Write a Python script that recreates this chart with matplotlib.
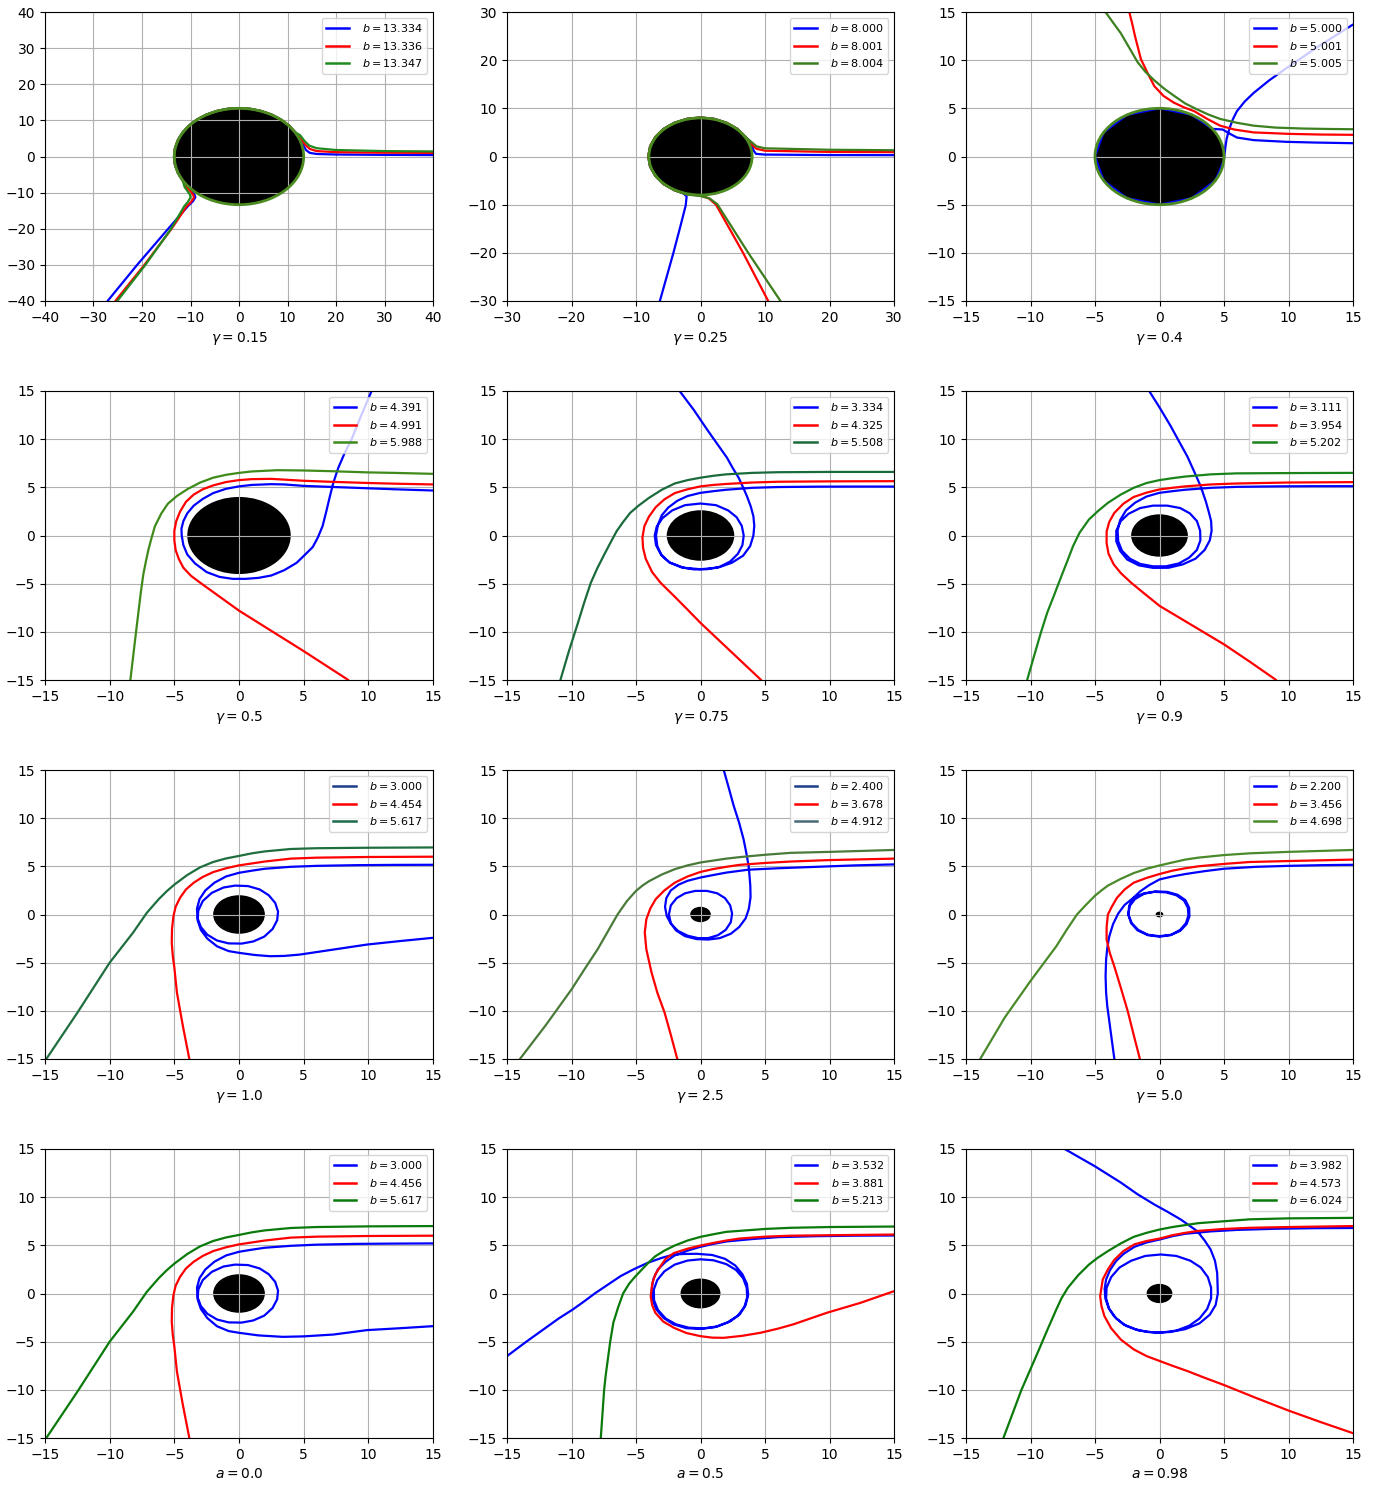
import matplotlib
matplotlib.use('Agg')
import matplotlib.pyplot as plt
from matplotlib.patches import Ellipse
from matplotlib.lines import Line2D

# ---------------- data ----------------
titles = [r'$\gamma = 0.15$', r'$\gamma = 0.25$', r'$\gamma = 0.4$',
          r'$\gamma = 0.5$', r'$\gamma = 0.75$', r'$\gamma = 0.9$',
          r'$\gamma = 1.0$', r'$\gamma = 2.5$', r'$\gamma = 5.0$',
          r'$a = 0.0$', r'$a = 0.5$', r'$a = 0.98$']
b_values = [["13.334", "13.336", "13.347"], ["8.000", "8.001", "8.004"], ["5.000", "5.001", "5.005"],
            ["4.391", "4.991", "5.988"], ["3.334", "4.325", "5.508"], ["3.111", "3.954", "5.202"],
            ["3.000", "4.454", "5.617"], ["2.400", "3.678", "4.912"], ["2.200", "3.456", "4.698"],
            ["3.000", "4.456", "5.617"], ["3.532", "3.881", "5.213"], ["3.982", "4.573", "6.024"]]
limits = [40, 30, 15, 15, 15, 15, 15, 15, 15, 15, 15, 15]
tick_steps = [10, 10, 5, 5, 5, 5, 5, 5, 5, 5, 5, 5]
disc_radius = [13.34, 8.0, 5.0, 4.0, 2.62, 2.2, 2.0, 0.8, 0.3, 2.0, 1.55, 1.0]
disc_edge = [True, True, True, False, False, False, False, False, False, False, False, False]

# panel 1 (gamma = 0.15)
P1_ARC = [(11.6, 6.7), (10.27, 8.61), (8.61, 10.27), (6.7, 11.6), (4.58, 12.59), (2.33, 13.2), (0, 13.4),
          (-2.33, 13.2), (-4.58, 12.59), (-6.7, 11.6), (-8.61, 10.27), (-10.27, 8.61), (-11.6, 6.7),
          (-12.59, 4.58), (-13.2, 2.33), (-13.4, 0), (-13.2, -2.33), (-12.59, -4.58), (-11.6, -6.7)]
P1_BLUE = ([(40, 0.4), (30, 0.45), (20, 0.55), (16, 0.7), (14.6, 1.0), (13.8, 1.8), (13.2, 3.3), (12.4, 5.2)]
           + P1_ARC +
           [(-10.6, -8.5), (-9.7, -9.7), (-9.15, -10.6), (-9.0, -11.3), (-9.5, -12.4), (-10.5, -13.7),
            (-14.6, -20), (-21.0, -30), (-27.1, -40)])
P1_RED = ([(40, 1.0), (30, 1.05), (20, 1.2), (16, 1.5), (14.6, 2.1), (13.7, 3.2), (12.8, 4.8)]
          + P1_ARC +
          [(-10.8, -8.5), (-9.9, -9.8), (-9.4, -10.7), (-9.3, -11.4), (-9.9, -12.6), (-10.9, -14.0),
           (-13.9, -20), (-19.5, -30), (-25.5, -40)])
P1_GREEN = ([(40, 1.4), (30, 1.5), (20, 1.8), (16, 2.3), (14.5, 3.0), (13.5, 4.3), (12.6, 5.9)]
            + P1_ARC +
            [(-11.2, -8.5), (-10.5, -9.8), (-10.1, -10.6), (-10.0, -11.3), (-10.5, -12.5), (-11.3, -13.8),
             (-14.0, -20), (-19.3, -30), (-25.1, -40)])

# panel 2 (gamma = 0.25)
P2_ARC = [(7.0, 4.05), (5.73, 5.73), (4.05, 7.0), (2.1, 7.82), (0, 8.1), (-2.1, 7.82), (-4.05, 7.0),
          (-5.73, 5.73), (-7.0, 4.05), (-7.82, 2.1), (-8.1, 0), (-7.82, -2.1), (-7.0, -4.05),
          (-5.73, -5.73), (-4.05, -7.0)]
P2_BLUE = ([(30, 0.28), (20, 0.3), (10, 0.4), (8.6, 0.55), (8.25, 1.2), (7.9, 2.4)] + P2_ARC +
           [(-2.6, -7.7), (-2.15, -8.3), (-2.3, -10.2), (-3.1, -14.4), (-4.2, -20), (-6.3, -30)])
P2_RED = ([(30, 0.9), (20, 0.95), (10, 1.2), (8.7, 1.6), (7.8, 2.6)] + P2_ARC +
          [(-2.1, -7.82), (0, -8.1), (1.3, -8.7), (2.4, -10), (6.6, -20), (10.5, -30)])
P2_GREEN = ([(30, 1.3), (20, 1.4), (10, 1.7), (8.7, 2.1), (7.9, 3.0)] + P2_ARC +
            [(-2.1, -7.9), (0, -8.2), (1.4, -8.7), (2.6, -9.9), (7.4, -20), (12.4, -30)])

# panel 3 (gamma = 0.4)
P3_BLUE = [(15, 1.38), (12, 1.45), (9.87, 1.52), (7.3, 1.7), (6.0, 1.97), (5.4, 2.4), (4.9, 2.8), (4.1, 2.87),
           (2.5, 4.33), (0, 5), (-2.5, 4.33), (-4.33, 2.5), (-5, 0), (-4.33, -2.5), (-2.5, -4.33), (0, -5),
           (2.5, -4.33), (4.33, -2.5), (4.98, -0.44), (5.06, 0.4), (5.12, 1.1), (5.2, 1.8), (5.33, 2.5),
           (5.5, 3.2), (5.7, 3.9), (6.0, 4.7), (6.6, 5.7), (7.3, 6.6), (8.5, 7.9), (9.87, 9.2),
           (12.4, 11.5), (15, 13.7)]
P3_RED = [(-2.34, 15), (-2.1, 13.7), (-1.9, 12.5), (-1.65, 11.2), (-1.44, 10.1), (-0.9, 8.6), (-0.4, 7.3),
          (0.3, 6.3), (1.1, 5.6), (1.9, 5.1), (2.7, 4.7), (3.7, 3.9), (4.7, 3.2), (5.8, 2.8), (7.3, 2.5),
          (10, 2.35), (12.5, 2.28), (15, 2.25)]
P3_GREEN = [(-4.19, 15), (-3.6, 13.9), (-3.0, 12.8), (-2.35, 11.3), (-1.7, 9.8), (-1.1, 8.8), (-0.4, 7.9),
            (0.4, 7.0), (1.13, 6.3), (2.0, 5.5), (2.9, 4.9), (3.8, 4.35), (4.7, 3.9), (6, 3.5), (7.3, 3.2),
            (9, 3.0), (11.2, 2.9), (13, 2.86), (15, 2.83)]

# panel 4 (gamma = 0.5)
P4_BLUE = [(15, 4.67), (12, 4.8), (10, 4.9), (7, 5.05), (5, 5.15), (3.5, 5.3), (2.5, 5.33), (1, 5.25),
           (0, 5.1), (-1, 4.85), (-2, 4.4), (-2.8, 3.8), (-3.5, 3.1), (-4.0, 2.3), (-4.3, 1.5), (-4.45, 0.7),
           (-4.43, 0), (-4.3, -1.0), (-4, -1.97), (-3.4, -2.9), (-2.5, -3.8), (-1.5, -4.3), (-0.5, -4.5),
           (0.5, -4.5), (1.5, -4.4), (2.5, -4.15), (3.5, -3.6), (4.45, -2.84), (5.1, -2.0), (5.7, -1.2),
           (6.1, -0.2), (6.46, 0.97), (6.75, 2.5), (7.03, 4.08), (7.3, 5.5), (7.67, 7.0), (8.15, 8.5),
           (8.7, 9.97), (9.4, 12.3), (10.25, 15)]
P4_RED = [(15, 5.3), (12, 5.38), (10, 5.45), (7, 5.58), (5, 5.68), (2.5, 5.88), (1, 5.85), (0, 5.75),
          (-1, 5.55), (-2, 5.2), (-2.8, 4.8), (-3.5, 4.25), (-4.1, 3.5), (-4.55, 2.5), (-4.85, 1.5),
          (-5, 0.5), (-5.0, -0.5), (-4.9, -1.5), (-4.65, -2.45), (-4.3, -3.35), (-3.7, -4.2), (-3, -4.9),
          (-1.5, -6.35), (0, -7.8), (2.5, -9.9), (5, -12.0), (8.45, -15)]
P4_GREEN = [(15, 6.4), (12, 6.5), (10, 6.55), (7, 6.68), (5, 6.75), (3, 6.78), (1, 6.65), (0, 6.5),
            (-1, 6.3), (-2, 6.0), (-3, 5.5), (-4, 4.8), (-4.8, 4.1), (-5.5, 3.3), (-6.0, 2.3), (-6.5, 0.97),
            (-6.75, -0.2), (-7.0, -1.45), (-7.2, -2.7), (-7.4, -4.05), (-7.6, -6), (-7.96, -10), (-8.4, -15)]

# panel 5 (gamma = 0.75)
P5_BLUE = [(15, 5.08), (12, 5.08), (9, 5.07), (6, 5.03), (4, 4.95), (2, 4.75), (1, 4.6), (0, 4.43),
           (-1, 4.1), (-1.8, 3.6), (-2.5, 2.9), (-3.0, 2.1), (-3.3, 1.1), (-3.45, 0), (-3.35, -1.1),
           (-3.0, -2.1), (-2.4, -2.8), (-1.5, -3.3), (-0.5, -3.52), (0.5, -3.5), (1.5, -3.25), (2.3, -2.7),
           (2.9, -1.9), (3.25, -1.0), (3.35, 0), (3.2, 1.0), (2.8, 1.9), (2.15, 2.6), (1.2, 3.15), (0, 3.32),
           (-1.2, 3.15), (-2.2, 2.6), (-2.95, 1.8), (-3.4, 0.9), (-3.55, 0), (-3.45, -1.0), (-3.05, -2.0),
           (-2.4, -2.8), (-1.3, -3.35), (0, -3.5), (1.3, -3.35), (2.4, -2.85), (3.3, -2.1), (3.85, -1.1),
           (4.1, 0), (4.17, 1.0), (4.1, 2.0), (3.9, 3.0), (3.6, 4.08), (3.3, 5.0), (2.96, 5.99), (2.5, 7.0),
           (2.06, 8.06), (1.3, 9.5), (0.51, 11.0), (-0.5, 13.0), (-1.62, 15)]
P5_RED = [(15, 5.64), (10, 5.62), (6, 5.58), (4, 5.5), (2, 5.35), (1, 5.25), (0, 5.1), (-1, 4.8), (-2, 4.4),
          (-2.8, 3.75), (-3.47, 2.94), (-4.0, 1.95), (-4.35, 0.97), (-4.5, -0.2), (-4.45, -1.3),
          (-4.25, -2.4), (-3.75, -3.8), (-3.1, -4.9), (-2, -6.35), (-1, -7.7), (0, -9.07), (2.4, -12.1),
          (4.7, -15)]
P5_GREEN = [(15, 6.6), (10, 6.6), (6, 6.57), (4, 6.5), (2, 6.35), (1, 6.2), (0, 6.0), (-1, 5.75),
            (-2, 5.4), (-3, 4.75), (-4, 3.9), (-4.8, 3.1), (-5.45, 2.35), (-6.0, 1.4), (-6.5, 0.45),
            (-7.0, -0.8), (-7.46, -1.97), (-8.0, -3.4), (-8.5, -4.9), (-9.0, -6.9), (-9.5, -9.07),
            (-10.2, -12), (-10.86, -15)]

# panel 6 (gamma = 0.9)
P6_BLUE = [(15, 5.12), (12, 5.12), (9, 5.1), (6, 5.05), (4, 4.95), (2, 4.75), (1, 4.6), (0, 4.43),
           (-1, 4.05), (-1.9, 3.4), (-2.6, 2.6), (-3.05, 1.6), (-3.25, 0.5), (-3.2, -0.6), (-2.9, -1.6),
           (-2.3, -2.4), (-1.5, -2.95), (-0.5, -3.2), (0.5, -3.2), (1.5, -2.9), (2.3, -2.3), (2.9, -1.5),
           (3.17, -0.5), (3.15, 0.5), (2.9, 1.5), (2.35, 2.3), (1.6, 2.85), (0.6, 3.1), (-0.5, 3.1),
           (-1.5, 2.85), (-2.4, 2.25), (-3.0, 1.5), (-3.35, 0.5), (-3.35, -0.6), (-3.05, -1.6), (-2.5, -2.5),
           (-1.6, -3.1), (-0.5, -3.36), (0.7, -3.35), (1.8, -3.0), (2.8, -2.4), (3.5, -1.5), (3.9, -0.5),
           (4.04, 0.5), (4.0, 1.5), (3.85, 2.3), (3.6, 3.5), (3.19, 5.12), (2.7, 6.6), (2.16, 8.2),
           (1.5, 9.8), (0.87, 11.35), (0, 13.3), (-0.8, 15)]
P6_RED = [(15, 5.54), (10, 5.5), (6, 5.4), (4, 5.3), (2, 5.1), (1, 4.95), (0, 4.78), (-1, 4.45), (-2, 4.0),
          (-2.8, 3.3), (-3.5, 2.35), (-3.9, 1.4), (-4.1, 0.4), (-4.1, -0.8), (-3.95, -1.9), (-3.55, -3.0),
          (-3, -3.9), (-2.2, -4.9), (-1.2, -6.0), (0, -7.3), (2.5, -9.3), (5, -11.3), (7, -13.1),
          (9.04, -15)]
P6_GREEN = [(15, 6.5), (10, 6.48), (6, 6.45), (4, 6.35), (2, 6.12), (1, 5.95), (0, 5.75), (-1, 5.45),
            (-2, 4.95), (-3, 4.25), (-4, 3.39), (-4.8, 2.5), (-5.47, 1.66), (-6.2, 0.28), (-6.7, -1.1),
            (-7.1, -2.5), (-7.6, -4.2), (-8.1, -5.95), (-8.7, -8), (-9.2, -10.1), (-9.7, -12.4),
            (-10.26, -15)]

# panel 7 (gamma = 1.0)
P7_BLUE = [(15, 5.16), (12, 5.15), (9, 5.12), (6, 5.05), (4, 4.95), (2, 4.75), (1, 4.55), (0, 4.33),
           (-1, 3.95), (-1.9, 3.3), (-2.6, 2.5), (-3.05, 1.6), (-3.25, 0.6), (-3.2, -0.4), (-2.95, -1.3),
           (-2.45, -2.1), (-1.7, -2.7), (-0.8, -3.0), (0.2, -3.02), (1.1, -2.8), (1.95, -2.3), (2.6, -1.5),
           (2.95, -0.6), (3.02, 0.3), (2.8, 1.2), (2.3, 2.0), (1.6, 2.6), (0.7, 2.95), (-0.3, 3.0),
           (-1.2, 2.8), (-2.1, 2.25), (-2.8, 1.4), (-3.15, 0.4), (-3.2, -0.6), (-2.95, -1.6), (-2.45, -2.5),
           (-1.7, -3.3), (-0.8, -3.8), (0, -3.98), (1.2, -4.2), (2.4, -4.33), (3.5, -4.3), (4.7, -4.16),
           (6, -3.9), (7.3, -3.64), (9.9, -3.12), (12.5, -2.75), (15, -2.42)]
P7_RED = [(15, 6.0), (10, 5.97), (6, 5.9), (4, 5.8), (2, 5.5), (1, 5.3), (0, 5.1), (-1, 4.8), (-2, 4.4),
          (-2.8, 3.9), (-3.5, 3.3), (-4.1, 2.6), (-4.56, 1.73), (-4.9, 0.8), (-5.07, -0.17), (-5.18, -1.5),
          (-5.2, -2.94), (-5.12, -4.3), (-5.0, -5.5), (-4.8, -8.1), (-4.35, -11.5), (-3.84, -15)]
P7_GREEN = [(15, 6.96), (10, 6.93), (6, 6.88), (4, 6.8), (2, 6.55), (1, 6.35), (0, 6.08), (-1, 5.82),
            (-2, 5.45), (-3, 4.9), (-4, 4.1), (-5.0, 3.1), (-5.6, 2.4), (-6.2, 1.6), (-7.13, 0.17),
            (-8.2, -1.9), (-10, -5.0), (-12.5, -10.2), (-14.9, -15)]

# panel 8 (gamma = 2.5)
P8_BLUE = [(15, 5.2), (12, 5.1), (9, 4.95), (6, 4.8), (3.7, 4.65), (2, 4.35), (1, 4.1), (0, 3.84),
           (-1, 3.5), (-1.7, 3.1), (-2.3, 2.5), (-2.65, 1.7), (-2.75, 0.8), (-2.62, -0.14), (-2.3, -0.95),
           (-1.75, -1.7), (-1.0, -2.2), (-0.2, -2.45), (0.6, -2.45), (1.35, -2.15), (1.95, -1.6),
           (2.35, -0.8), (2.45, 0.1), (2.3, 0.95), (1.9, 1.7), (1.3, 2.2), (0.5, 2.45), (-0.4, 2.45),
           (-1.2, 2.2), (-1.85, 1.7), (-2.3, 0.95), (-2.45, 0.0), (-2.3, -0.9), (-1.9, -1.65), (-1.2, -2.25),
           (-0.3, -2.55), (0.6, -2.6), (1.5, -2.45), (2.35, -2.0), (3.0, -1.3), (3.5, -0.4), (3.75, 0.6),
           (3.88, 1.8), (3.86, 3.0), (3.8, 4.0), (3.73, 5.05), (3.55, 6.4), (3.34, 7.8), (3.0, 9.5),
           (2.57, 11.3), (2.2, 13.1), (1.8, 15)]
P8_RED = [(15, 5.8), (10, 5.65), (7, 5.5), (5, 5.35), (3, 5.15), (2, 4.95), (1, 4.72), (0, 4.42), (-1, 3.95),
          (-2, 3.3), (-2.8, 2.5), (-3.47, 1.6), (-3.9, 0.6), (-4.2, -0.5), (-4.32, -1.87), (-4.2, -3.6),
          (-3.8, -6.0), (-3.35, -8.1), (-2.78, -10.2), (-2.3, -12.5), (-1.8, -15)]
P8_GREEN = [(15, 6.7), (10, 6.5), (7, 6.4), (5, 6.2), (3, 5.95), (2, 5.8), (1, 5.6), (0, 5.4), (-1, 5.1),
            (-2, 4.7), (-3, 4.15), (-4, 3.45), (-4.5, 3.0), (-5.0, 2.45), (-5.7, 1.4), (-6.43, 0),
            (-7.2, -1.8), (-7.97, -3.6), (-9, -5.7), (-9.98, -7.74), (-12, -11.5), (-14, -15)]

# panel 9 (gamma = 5.0)
P9_BLUE = [(-3.5, -15), (-3.7, -13), (-3.9, -11), (-4.05, -9.5), (-4.14, -8.1), (-4.18, -6.4), (-4.14, -4.7),
           (-4.05, -3.5), (-3.9, -2.3), (-3.6, -1.0), (-3.2, 0.1), (-2.7, 1.0), (-2.0, 1.75), (-1.2, 2.2),
           (-0.4, 2.35), (0.5, 2.3), (1.3, 2.0), (1.9, 1.45), (2.2, 0.7), (2.24, -0.1), (2.05, -0.9),
           (1.6, -1.6), (0.9, -2.1), (0.0, -2.25), (-0.9, -2.1), (-1.65, -1.6), (-2.15, -0.9), (-2.42, 0.0),
           (-2.3, 0.9), (-1.9, 1.6), (-1.2, 2.15), (-0.3, 2.4), (0.6, 2.35), (1.4, 2.05), (2.0, 1.5),
           (2.3, 0.7), (2.32, -0.2), (2.1, -1.0), (1.6, -1.7), (0.85, -2.15), (0, -2.3), (-0.9, -2.15),
           (-1.7, -1.65), (-2.2, -0.9), (-2.42, 0.0), (-2.35, 0.9), (-2.05, 1.7), (-1.5, 2.4), (-0.8, 3.05),
           (0, 3.64), (1, 3.95), (2, 4.2), (3.5, 4.5), (5, 4.75), (7.5, 4.95), (10, 5.05), (12.5, 5.12),
           (15, 5.16)]
P9_RED = [(15, 5.7), (10, 5.55), (7, 5.45), (5, 5.25), (3, 5.0), (2, 4.8), (1, 4.55), (0, 4.2), (-1, 3.8),
          (-2, 3.3), (-2.7, 2.6), (-3.3, 1.73), (-3.7, 0.8), (-4, 0), (-4.1, -1.3), (-4.1, -2.6),
          (-3.85, -4.0), (-3.5, -5.4), (-3.0, -7.6), (-2.47, -10), (-2.0, -12.5), (-1.52, -15)]
P9_GREEN = [(15, 6.7), (10, 6.5), (7, 6.35), (5, 6.17), (3, 5.9), (2, 5.7), (1, 5.4), (0, 5.09), (-1, 4.75),
            (-2, 4.3), (-3, 3.7), (-4, 3.0), (-4.5, 2.5), (-5, 1.95), (-5.7, 1.0), (-6.4, 0), (-7.2, -1.6),
            (-8, -3.3), (-9, -5.1), (-10, -6.9), (-12, -10.7), (-13.9, -15)]

# panel 10 (a = 0.0)
P10_BLUE = [(15, 5.2), (12, 5.18), (9, 5.15), (6, 5.07), (4, 4.95), (2, 4.75), (1, 4.55), (0, 4.33),
            (-1, 3.95), (-1.9, 3.3), (-2.6, 2.5), (-3.05, 1.6), (-3.25, 0.6), (-3.2, -0.4), (-2.95, -1.3),
            (-2.45, -2.1), (-1.7, -2.7), (-0.8, -3.0), (0.2, -3.02), (1.1, -2.8), (1.95, -2.3), (2.6, -1.5),
            (2.95, -0.6), (3.02, 0.3), (2.8, 1.2), (2.3, 2.0), (1.6, 2.6), (0.7, 2.95), (-0.3, 3.0),
            (-1.2, 2.8), (-2.1, 2.25), (-2.8, 1.4), (-3.15, 0.4), (-3.2, -0.6), (-2.95, -1.6), (-2.45, -2.55),
            (-1.7, -3.4), (-0.8, -3.9), (0, -4.08), (1.5, -4.35), (3.4, -4.5), (5, -4.45), (7.3, -4.26),
            (9.9, -3.8), (12.5, -3.6), (15, -3.39)]
P10_RED = [(15, 6.0), (10, 5.97), (6, 5.9), (4, 5.8), (2, 5.5), (1, 5.3), (0, 5.1), (-1, 4.8), (-2, 4.4),
           (-2.8, 3.9), (-3.5, 3.3), (-4.1, 2.6), (-4.56, 1.73), (-4.9, 0.8), (-5.07, -0.17), (-5.18, -1.5),
           (-5.2, -2.94), (-5.12, -4.3), (-5.0, -5.5), (-4.8, -8.1), (-4.35, -11.5), (-3.84, -15)]
P10_GREEN = [(15, 7.0), (10, 6.97), (6, 6.9), (4, 6.8), (2, 6.55), (1, 6.35), (0, 6.08), (-1, 5.82),
             (-2, 5.45), (-3, 4.9), (-4, 4.1), (-5.0, 3.1), (-5.6, 2.4), (-6.2, 1.6), (-7.13, 0.17),
             (-8.2, -1.9), (-10, -5.0), (-12.5, -10.2), (-14.9, -15)]

# panel 11 (a = 0.5)
P11_BLUE = [(15, 6.02), (12, 6.0), (9, 5.95), (6, 5.85), (4, 5.65), (2, 5.4), (1, 5.15), (0, 4.85),
            (-1, 4.45), (-2, 3.95), (-2.7, 3.3), (-3.3, 2.5), (-3.65, 1.5), (-3.78, 0.5), (-3.72, -0.6),
            (-3.45, -1.6), (-2.9, -2.5), (-2.1, -3.2), (-1.1, -3.6), (0, -3.68), (1.1, -3.5), (2.1, -3.0),
            (2.9, -2.3), (3.4, -1.4), (3.62, -0.4), (3.58, 0.6), (3.3, 1.6), (2.75, 2.45), (2.0, 3.05),
            (1.0, 3.45), (0, 3.55), (-1.0, 3.42), (-2.0, 3.0), (-2.8, 2.3), (-3.35, 1.4), (-3.62, 0.4),
            (-3.6, -0.7), (-3.3, -1.7), (-2.7, -2.6), (-1.9, -3.2), (-0.9, -3.55), (0.2, -3.62), (1.3, -3.42),
            (2.3, -2.9), (3.05, -2.15), (3.5, -1.2), (3.7, -0.1), (3.6, 1.0), (3.25, 2.0), (2.7, 2.9),
            (1.9, 3.6), (0.9, 4.0), (-0.3, 4.12), (-1.3, 4.1), (-2.06, 4.05), (-3.0, 3.7), (-4.1, 3.18),
            (-5.2, 2.5), (-6.2, 1.8), (-7.2, 0.9), (-8.2, 0), (-9.0, -0.8), (-9.9, -1.66), (-11, -2.6),
            (-12, -3.56), (-13.5, -5.0), (-15, -6.5)]
P11_RED = [(15, 6.12), (10, 6.05), (7, 6.0), (5, 5.9), (3, 5.7), (2, 5.5), (1, 5.25), (0, 4.98), (-1, 4.65),
           (-2.06, 4.2), (-2.7, 3.6), (-3.1, 2.84), (-3.5, 2.0), (-3.73, 1.1), (-3.86, -0.28), (-3.75, -1.2),
           (-3.5, -2.0), (-2.9, -2.9), (-2.06, -3.56), (-1.1, -4.1), (0, -4.43), (0.9, -4.58), (1.8, -4.6),
           (3.2, -4.4), (4.64, -4.08), (6, -3.65), (7.2, -3.2), (8.5, -2.6), (9.8, -2.0), (12.4, -0.97),
           (15, 0.24)]
P11_GREEN = [(15, 6.95), (10, 6.9), (7, 6.82), (5, 6.7), (3, 6.5), (2, 6.4), (1, 6.15), (0, 5.88), (-1, 5.5),
             (-2, 4.98), (-2.8, 4.45), (-3.5, 3.87), (-4.0, 3.25), (-4.5, 2.55), (-5.1, 1.7), (-5.54, 1.0),
             (-6.0, 0), (-6.4, -1.5), (-6.75, -3.0), (-7.0, -5.0), (-7.2, -7.0), (-7.35, -8.5), (-7.47, -10),
             (-7.6, -12.5), (-7.73, -15)]

# panel 12 (a = 0.98)
P12_BLUE = [(15, 6.8), (12, 6.78), (9, 6.72), (6, 6.6), (4, 6.45), (2, 6.2), (1, 5.95), (0, 5.6), (-1, 5.3),
            (-1.95, 4.84), (-2.8, 4.1), (-3.37, 3.36), (-3.85, 2.4), (-4.14, 1.45), (-4.25, 0.5), (-4.2, -0.5),
            (-3.95, -1.5), (-3.5, -2.4), (-2.8, -3.2), (-1.9, -3.7), (-0.9, -4.0), (0.2, -4.05), (1.3, -3.85),
            (2.3, -3.35), (3.1, -2.6), (3.7, -1.6), (4.0, -0.5), (4.0, 0.6), (3.75, 1.7), (3.2, 2.7),
            (2.4, 3.4), (1.3, 3.9), (0.1, 4.05), (-1.1, 3.9), (-2.2, 3.4), (-3.1, 2.7), (-3.75, 1.7),
            (-4.1, 0.6), (-4.14, -0.5), (-3.9, -1.6), (-3.35, -2.6), (-2.6, -3.35), (-1.6, -3.85),
            (-0.4, -4.05), (0.8, -4.0), (2.0, -3.7), (3.1, -3.1), (3.9, -2.2), (4.35, -1.2), (4.52, 0.0),
            (4.5, 1.0), (4.47, 2.14), (4.3, 3.4), (3.96, 4.57), (3.5, 5.5), (2.93, 6.47), (1.65, 7.68),
            (0.6, 8.5), (-0.4, 9.24), (-1.7, 10.3), (-2.98, 11.5), (-5, 13.2), (-7.35, 15)]
P12_RED = [(15, 7.0), (10, 6.9), (7, 6.82), (5, 6.7), (3, 6.5), (2, 6.3), (1, 6.05), (0, 5.7), (-1, 5.45),
           (-1.95, 5.1), (-2.8, 4.4), (-3.5, 3.5), (-4.0, 2.5), (-4.4, 1.45), (-4.6, -0.28), (-4.5, -1.3),
           (-4.27, -2.35), (-3.75, -3.6), (-3, -4.78), (-2, -5.8), (-1, -6.5), (0, -7.0), (1, -7.5),
           (2.16, -8.05), (3.5, -8.75), (5, -9.5), (7.5, -10.85), (10, -12.15), (12.5, -13.35), (15, -14.5)]
P12_GREEN = [(15, 7.85), (10, 7.8), (7, 7.7), (5, 7.5), (3, 7.3), (2, 7.1), (1, 6.9), (0, 6.64), (-1, 6.3),
             (-2, 5.88), (-3, 5.2), (-4, 4.4), (-4.8, 3.7), (-5.47, 3.0), (-6.3, 1.9), (-7.1, 0.6),
             (-7.6, -0.5), (-8, -1.66), (-8.7, -3.8), (-9.4, -6.0), (-10.7, -10), (-12.1, -15)]

curves = [(P1_BLUE, P1_RED, P1_GREEN), (P2_BLUE, P2_RED, P2_GREEN), (P3_BLUE, P3_RED, P3_GREEN),
          (P4_BLUE, P4_RED, P4_GREEN), (P5_BLUE, P5_RED, P5_GREEN), (P6_BLUE, P6_RED, P6_GREEN),
          (P7_BLUE, P7_RED, P7_GREEN), (P8_BLUE, P8_RED, P8_GREEN), (P9_BLUE, P9_RED, P9_GREEN),
          (P10_BLUE, P10_RED, P10_GREEN), (P11_BLUE, P11_RED, P11_GREEN), (P12_BLUE, P12_RED, P12_GREEN)]

# ---------------- styles ----------------
line_colors = [('#0000ff', '#ff0000', '#1f8a1f'), ('#0000ff', '#ff0000', '#3b7d1c'),
               ('#0000ff', '#ff0000', '#3d8020'), ('#0000ff', '#ff0000', '#3f8a1a'),
               ('#0000ff', '#ff0000', '#1a6b3c'), ('#0000ff', '#ff0000', '#1a841a'),
               ('#0000ff', '#ff0000', '#1e6e3e'), ('#0000ff', '#ff0000', '#4a7a3a'),
               ('#0000ff', '#ff0000', '#4a8a2a'), ('#0000ff', '#ff0000', '#0a7a0a'),
               ('#0000ff', '#ff0000', '#0a7a0a'), ('#0000ff', '#ff0000', '#0a7a0a')]
legend_colors = [('#0000ff', '#ff0000', '#1f8a1f'), ('#0000ff', '#ff0000', '#3b7d1c'),
                 ('#0000ff', '#ff0000', '#3d8020'), ('#0000ff', '#ff0000', '#3f8a1a'),
                 ('#0000ff', '#ff0000', '#1a6b3c'), ('#0000ff', '#ff0000', '#1a841a'),
                 ('#1c3c8c', '#ff0000', '#1c6a4a'), ('#1c3c8c', '#ff0000', '#4a6a7a'),
                 ('#0000ff', '#ff0000', '#4a8a2a'), ('#0000ff', '#ff0000', '#0a7a0a'),
                 ('#0000ff', '#ff0000', '#0a7a0a'), ('#0000ff', '#ff0000', '#0a7a0a')]
edge_color = '#4b8b1f'

W, H = 1375, 1487
col_left = [45, 507, 966]
col_w = [388, 387, 387]
row_top = [12, 391, 770, 1149]
ax_h = 289

fig = plt.figure(figsize=(W / 100, H / 100), dpi=100)

for i in range(12):
    r, c = divmod(i, 3)
    ax = fig.add_axes([col_left[c] / W, 1 - (row_top[r] + ax_h) / H, col_w[c] / W, ax_h / H])
    lim = limits[i]
    ax.set_xlim(-lim, lim)
    ax.set_ylim(-lim, lim)
    ticks = list(range(-lim, lim + 1, tick_steps[i]))
    ax.set_xticks(ticks)
    ax.set_yticks(ticks)
    ax.tick_params(labelsize=10)
    ax.grid(True, color='#b0b0b0', lw=0.8)
    R = disc_radius[i]
    ax.add_patch(Ellipse((0, 0), 2 * R, 2 * R, facecolor='black', edgecolor='none', zorder=1))
    for pts, col in zip(curves[i], line_colors[i]):
        xs = [p[0] for p in pts]
        ys = [p[1] for p in pts]
        ax.plot(xs, ys, color=col, lw=1.6, zorder=2, solid_joinstyle='round', solid_capstyle='round')
    if disc_edge[i]:
        ax.add_patch(Ellipse((0, 0), 2 * R, 2 * R, facecolor='none', edgecolor=edge_color,
                             lw=2.0, zorder=3))
    handles = [Line2D([], [], color=col, lw=1.8) for col in legend_colors[i]]
    labels = [r'$b = %s$' % v for v in b_values[i]]
    ax.legend(handles, labels, loc='upper right', fontsize=8, handletextpad=1.2)
    ax.set_xlabel(titles[i], fontsize=10)

fig.savefig('out.png', dpi=100)
